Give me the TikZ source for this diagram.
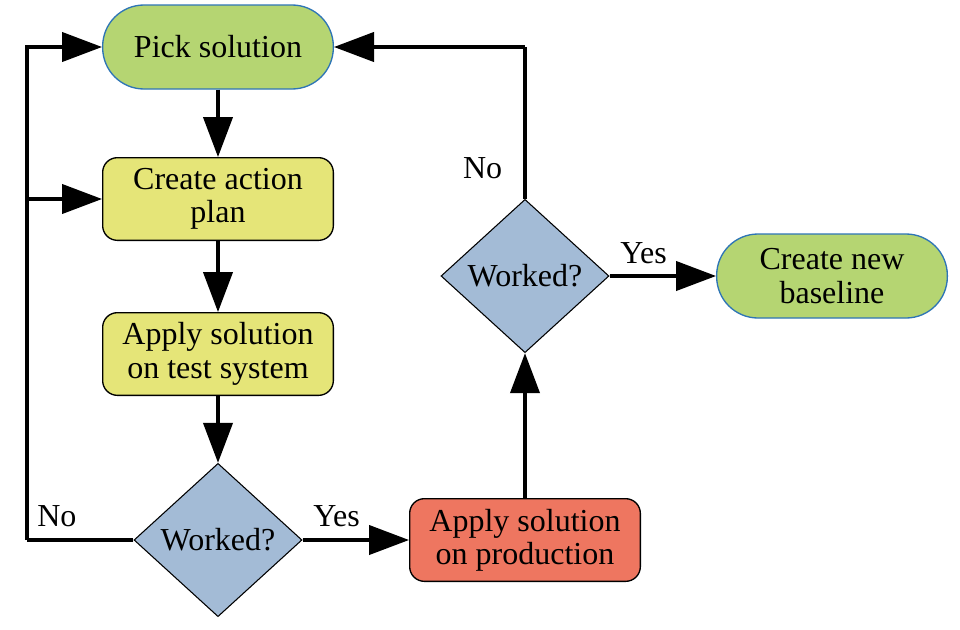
\documentclass[tikz,border=0pt]{standalone}
\usepackage{fontspec}
\setmainfont{Liberation Serif}
\usetikzlibrary{arrows.meta,shapes.geometric,positioning,backgrounds}
\definecolor{startgreen}{RGB}{181,213,114}
\definecolor{startborder}{RGB}{46,117,182}
\definecolor{stepyellow}{RGB}{229,229,120}
\definecolor{testblue}{RGB}{163,187,214}
\definecolor{prodred}{RGB}{238,118,96}

\begin{document}
\begin{tikzpicture}[%
    x=0.75pt, y=-0.75pt,%
    show background rectangle,%
    tight background,%
    background rectangle/.style={fill=white}%
  ]
  \tikzset{%
    base text/.style={font=\fontsize{24}{25}\selectfont, align=center, inner sep=0pt},%
    terminal/.style={base text, draw=startborder, line width=1pt, fill=startgreen,%
        rectangle, rounded corners=31pt, minimum width=173pt, minimum height=63pt},%
    action/.style={base text, draw=black, line width=1pt, rectangle, rounded corners=11pt,%
        minimum width=173pt, minimum height=62pt},%
    decision/.style={base text, draw=black, line width=0.8pt, fill=testblue,%
        diamond, aspect=1.1, minimum width=126pt, minimum height=115pt},%
    flow/.style={line width=2.3pt, -{Triangle[length=30pt, width=22pt]}},%
    flowline/.style={line width=2.3pt},%
    answer/.style={font=\fontsize{24}{25}\selectfont, inner sep=0pt}%
  }%
  \useasboundingbox (0,0) rectangle (960,629);%

  %
  % Boxes
  %
  \node[terminal] (pick) at (218,47) {Pick solution};%
  \node[action, fill=stepyellow] (plan) at (218,199) {Create action\\plan};%
  \node[action, fill=stepyellow] (test) at (218,354) {Apply solution\\on test system};%
  \node[decision] (check test) at (218,540) {Worked?};%
  \node[action, fill=prodred] (prod) at (525,540) {Apply solution\\on production};%
  \node[decision] (check prod) at (525,276) {Worked?};%
  \node[terminal] (baseline) at (832,276) {Create new\\baseline};%

  %
  % Main flow
  %
  \draw[flow] (pick) -- (plan);%
  \draw[flow] (plan) -- (test);%
  \draw[flow] (test) -- (check test);%
  \draw[flow] (check test) -- (prod)%
  node[answer, pos=0.32, above=9pt] (yes test) {Yes};%
  \draw[flow] (prod) -- (check prod);%
  \draw[flow] (check prod) -- (baseline)%
  node[answer, pos=0.32, above=8pt] (yes prod) {Yes};%

  %
  % Loops back
  %
  % Test failed
  \coordinate (left loop) at (27,47);%
  \draw[flowline] (check test.west) -- (left loop |- check test.west)%
  node[answer, pos=0.72, above=9pt] (no test) {No};%
  \draw[flow] (left loop |- check test.west) -- (left loop) -- (pick.west);%
  \draw[flow] (left loop |- plan.west) -- (plan.west);%

  % Production failed
  \draw[flowline] (check prod.north) -- (check prod.north |- pick.east)%
  node[answer, pos=0.2, left=16pt] (no prod) {No};%
  \draw[flow] (check prod.north |- pick.east) -- (pick.east);%
\end{tikzpicture}
\end{document}
